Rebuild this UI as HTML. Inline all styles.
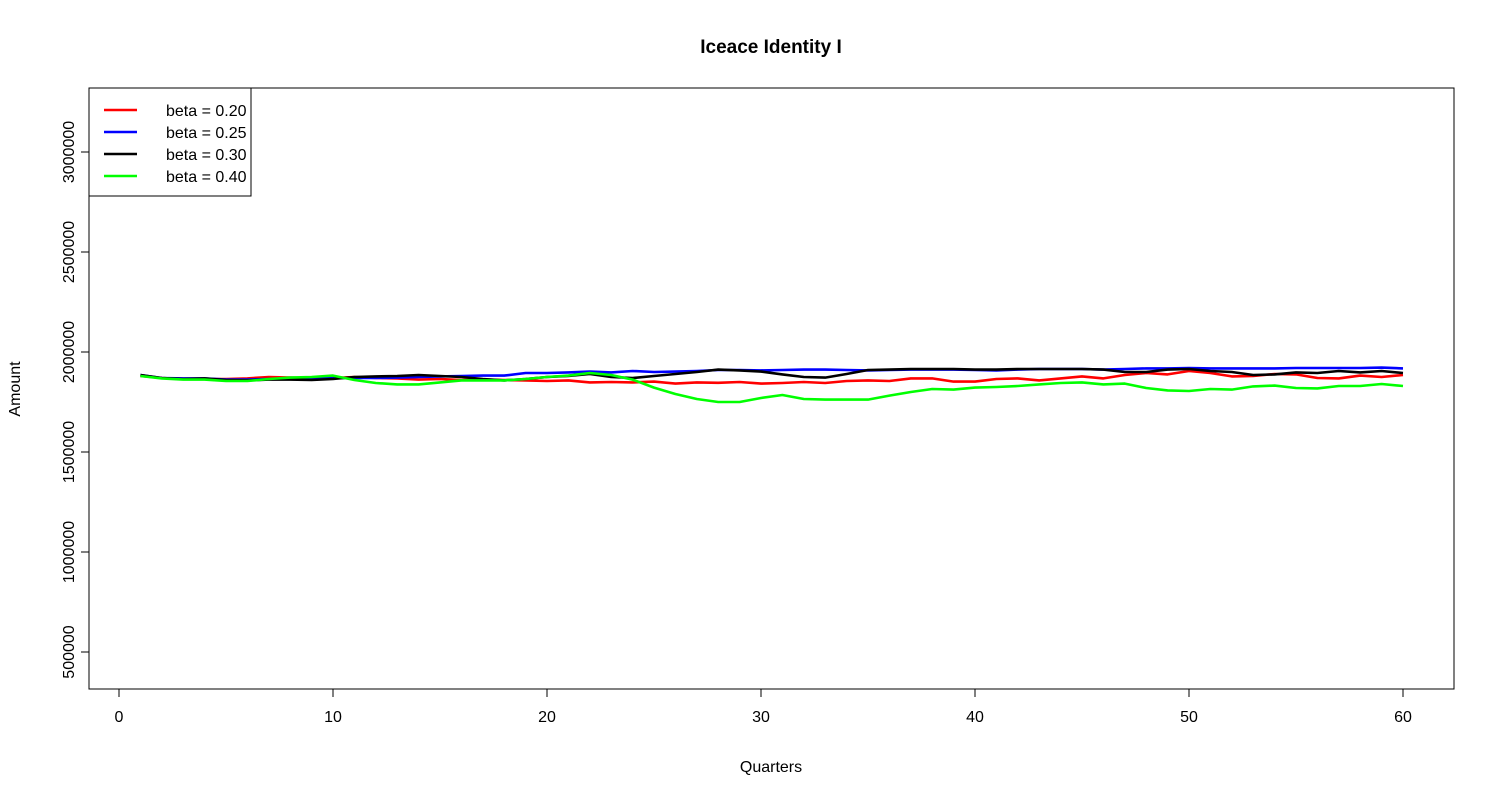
<!DOCTYPE html>
<html><head><meta charset="utf-8"><style>
body{margin:0;background:#fff;font-family:"Liberation Sans",Arial,sans-serif}
svg text{font-family:"Liberation Sans",Arial,sans-serif}
</style></head><body>
<svg id="chart" width="1500" height="800" viewBox="0 0 1500 800">
<text x="771" y="53" font-size="19" font-weight="bold" text-anchor="middle">Iceace Identity I</text>
<rect x="89" y="88" width="1365" height="601" fill="none" stroke="#000" stroke-width="1"/>
<g id="xaxis"></g>
<g id="yaxis"></g>
<text x="771" y="772" font-size="16" text-anchor="middle">Quarters</text>
<text transform="translate(20,389) rotate(-90)" font-size="16" text-anchor="middle">Amount</text>
<g id="series"></g>
<g>
<rect x="89" y="88" width="162" height="108" fill="#fff" stroke="#000" stroke-width="1"/>
<g id="legend"></g>
</g>
</svg>
<script>
const quarters = Array.from({length:60},(_,i)=>i+1);
const xTicks = [0,10,20,30,40,50,60];
const yTicks = [500000,1000000,1500000,2000000,2500000,3000000];
const seriesNames = ["beta = 0.20","beta = 0.25","beta = 0.30","beta = 0.40"];
const seriesColors = ["#ff0000","#0000ff","#000000","#00ff00"];
const beta020 = [1880000,1870000,1865000,1865000,1865000,1868000,1875000,1872000,1870000,1870000,1875000,1870000,1868000,1862000,1865000,1860000,1862000,1860000,1858000,1855000,1858000,1848000,1850000,1848000,1852000,1842000,1848000,1846000,1850000,1842000,1845000,1850000,1845000,1855000,1858000,1855000,1868000,1868000,1852000,1852000,1865000,1868000,1858000,1868000,1878000,1868000,1885000,1895000,1888000,1905000,1895000,1878000,1880000,1890000,1888000,1870000,1868000,1882000,1875000,1885000];
const beta025 = [1885000,1870000,1868000,1868000,1862000,1862000,1865000,1868000,1868000,1870000,1870000,1870000,1872000,1875000,1878000,1880000,1882000,1882000,1895000,1895000,1898000,1902000,1898000,1905000,1900000,1902000,1905000,1910000,1910000,1908000,1910000,1912000,1912000,1910000,1908000,1910000,1912000,1912000,1912000,1910000,1908000,1912000,1915000,1915000,1915000,1912000,1915000,1918000,1918000,1920000,1918000,1918000,1918000,1918000,1920000,1920000,1920000,1920000,1922000,1918000];
const beta030 = [1885000,1870000,1865000,1868000,1860000,1858000,1862000,1862000,1860000,1865000,1875000,1878000,1880000,1885000,1880000,1875000,1865000,1858000,1865000,1875000,1880000,1890000,1875000,1870000,1880000,1890000,1900000,1912000,1908000,1902000,1888000,1875000,1872000,1890000,1910000,1912000,1915000,1915000,1915000,1912000,1912000,1915000,1915000,1915000,1915000,1912000,1900000,1900000,1912000,1915000,1905000,1900000,1885000,1888000,1898000,1895000,1905000,1898000,1905000,1895000];
const beta040 = [1880000,1868000,1862000,1862000,1855000,1855000,1865000,1872000,1875000,1882000,1860000,1845000,1838000,1838000,1848000,1858000,1858000,1858000,1865000,1875000,1882000,1895000,1885000,1862000,1822000,1790000,1765000,1750000,1750000,1770000,1785000,1765000,1762000,1762000,1762000,1782000,1800000,1815000,1812000,1822000,1825000,1830000,1838000,1845000,1848000,1838000,1842000,1820000,1808000,1805000,1815000,1812000,1828000,1832000,1820000,1818000,1830000,1830000,1840000,1830000];
const allSeries=[beta020,beta025,beta030,beta040];
const NS="http://www.w3.org/2000/svg";
const xs=v=>119+(v/60)*1284;
const ys=v=>652-(v-500000)/2500000*500;
function mk(tag,attrs,parent){const e=document.createElementNS(NS,tag);for(const k in attrs)e.setAttribute(k,attrs[k]);parent.appendChild(e);return e;}
const xa=document.getElementById('xaxis');
mk('line',{x1:xs(0),x2:xs(60),y1:689,y2:689,stroke:'#000'},xa);
xTicks.forEach(t=>{
 const l=mk('line',{x1:xs(t),x2:xs(t),y1:689,y2:697,stroke:'#000'},xa);
 
 
 const tx=mk('text',{x:xs(t),y:722,'font-size':16,'text-anchor':'middle'},xa);tx.textContent=t;
 
 
});
const ya=document.getElementById('yaxis');
mk('line',{x1:89,x2:89,y1:ys(500000),y2:ys(3000000),stroke:'#000'},ya);
yTicks.forEach(t=>{
 const l=mk('line',{x1:81,x2:89,y1:ys(t),y2:ys(t),stroke:'#000'},ya);
 
 
 const tx=mk('text',{transform:`translate(74,${ys(t)}) rotate(-90)`,'font-size':16,'text-anchor':'middle'},ya);tx.textContent=t;
 
 
});
const sg=document.getElementById('series');
allSeries.forEach((s,i)=>{
 const p=mk('polyline',{points:s.map((v,j)=>xs(quarters[j])+','+ys(v)).join(' '),fill:'none',stroke:seriesColors[i],'stroke-width':2.6,'stroke-linejoin':'round'},sg);
 
 
});
const lg=document.getElementById('legend');
seriesNames.forEach((n,i)=>{
 const y=110+i*22;
 const l=mk('line',{x1:104,x2:137,y1:y,y2:y,stroke:seriesColors[i],'stroke-width':2.6},lg);
 
 
 const t=mk('text',{x:166,y:y+6,'font-size':16},lg);t.textContent=n;
 
 
});
</script>
</body></html>
